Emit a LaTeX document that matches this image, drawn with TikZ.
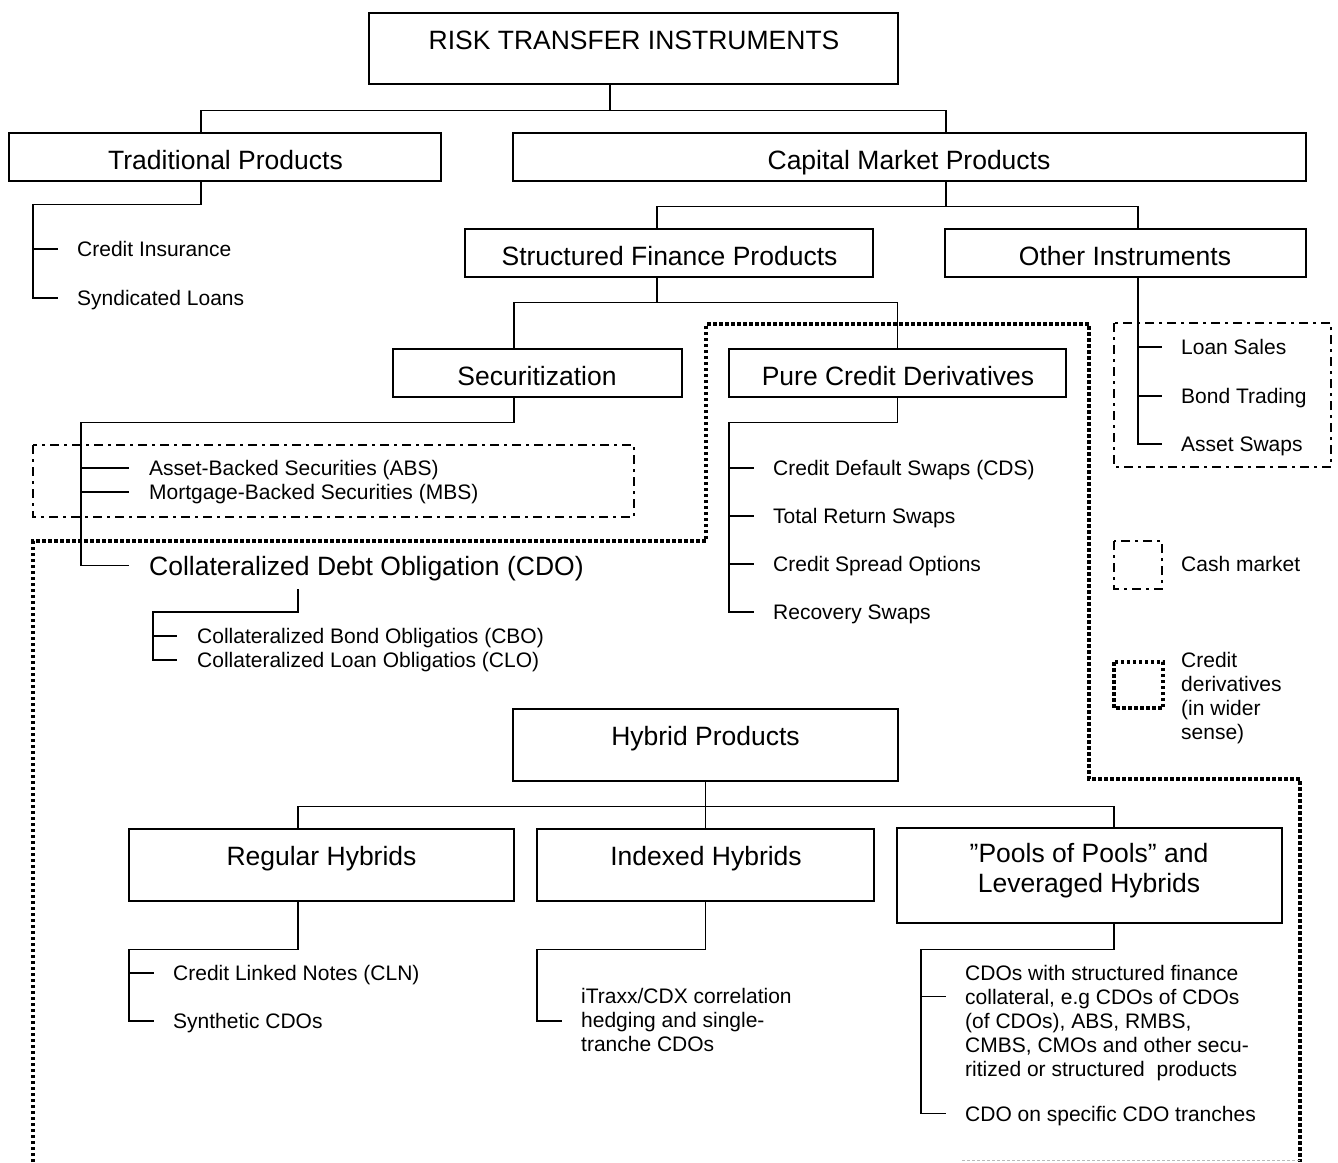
\documentclass[tikz,border=0pt]{standalone}
\usepackage{fontspec}
\setmainfont{Liberation Sans}
\newcommand\lblbig{\fontsize{26.5pt}{30pt}\selectfont}
\newcommand\lblsmall{\fontsize{21pt}{24pt}\selectfont}
\begin{document}
\begin{tikzpicture}[x=1pt,y=-1pt,
  box/.style={draw, line width=2.7pt, inner sep=0pt},
  big/.style={font=\lblbig, inner sep=0pt, text height=19pt, text depth=0pt, anchor=base},
  bigw/.style={font=\lblbig, inner sep=0pt, text height=19pt, text depth=0pt, anchor=base west},
  small/.style={font=\lblsmall, inner sep=0pt, text height=15pt, text depth=0pt, anchor=west},
  conn/.style={line width=1.6pt},
  cashline/.style={line width=2.5pt, dash pattern=on 9pt off 5pt on 3pt off 5pt},
  wideline/.style={line width=3.5pt, dash pattern=on 3.5pt off 2.5pt}]
\useasboundingbox (0,0) rectangle (1338,1162);

% ---- boxes ----
\node[box, minimum width=529pt, minimum height=71pt] (risk) at (633.5,48.5) {};
\node[box, minimum width=432pt, minimum height=48pt] (trad) at (225,157) {};
\node[box, minimum width=793pt, minimum height=48pt] (cap) at (909.5,157) {};
\node[box, minimum width=408pt, minimum height=48pt] (sfp) at (669,253) {};
\node[box, minimum width=361pt, minimum height=48pt] (oth) at (1125.5,253) {};
\node[box, minimum width=289pt, minimum height=48pt] (sec) at (537.5,373) {};
\node[box, minimum width=337pt, minimum height=48pt] (pcd) at (897.5,373) {};
\node[box, minimum width=385pt, minimum height=72pt] (hyb) at (705.5,745) {};
\node[box, minimum width=385pt, minimum height=72pt] (reg) at (321.5,865) {};
\node[box, minimum width=337pt, minimum height=72pt] (idx) at (705.5,865) {};
\node[box, minimum width=385pt, minimum height=95pt] (pools) at (1089.5,875.5) {};

% ---- box titles ----
\node[big] (riskT) at (634,49) {RISK TRANSFER INSTRUMENTS};
\node[big] (tradT) at (225.5,169) {Traditional Products};
\node[big] (capT) at (909,169) {Capital Market Products};
\node[big] (sfpT) at (669.5,265) {Structured Finance Products};
\node[big] (othT) at (1125,265) {Other Instruments};
\node[big] (secT) at (537,385) {Securitization};
\node[big] (pcdT) at (898,385) {Pure Credit Derivatives};
\node[bigw] (cdoT) at (149,575) {Collateralized Debt Obligation (CDO)};
\node[big] (hybT) at (705.5,745) {Hybrid Products};
\node[big] (regT) at (321.5,865) {Regular Hybrids};
\node[big] (idxT) at (706,865) {Indexed Hybrids};
\node[big] (poolsTa) at (1089,862) {”Pools of Pools” and};
\node[big] (poolsTb) at (1089,892) {Leveraged Hybrids};

% ---- leaf labels ----
\node[small] (cins) at (77,249) {Credit Insurance};
\node[small] (synd) at (77,298) {Syndicated Loans};
\node[small] (abs) at (149,468) {Asset-Backed Securities (ABS)};
\node[small] (mbs) at (149,492) {Mortgage-Backed Securities (MBS)};
\node[small] (cbo) at (197,636) {Collateralized Bond Obligatios (CBO)};
\node[small] (clo) at (197,660) {Collateralized Loan Obligatios (CLO)};
\node[small] (cds) at (773,468) {Credit Default Swaps (CDS)};
\node[small] (trs) at (773,516) {Total Return Swaps};
\node[small] (cso) at (773,564) {Credit Spread Options};
\node[small] (rsw) at (773,612) {Recovery Swaps};
\node[small] (lsale) at (1181,347) {Loan Sales};
\node[small] (bond) at (1181,396) {Bond Trading};
\node[small] (aswap) at (1181,444) {Asset Swaps};
\node[small] (cash) at (1181,564) {Cash market};
\node[small] (leg1) at (1181,660) {Credit};
\node[small] (leg2) at (1181,684) {derivatives};
\node[small] (leg3) at (1181,708) {(in wider};
\node[small] (leg4) at (1181,732) {sense)};
\node[small] (cln) at (173,973) {Credit Linked Notes (CLN)};
\node[small] (syn) at (173,1021) {Synthetic CDOs};
\node[small] (itr1) at (581,996) {iTraxx/CDX correlation};
\node[small] (itr2) at (581,1020) {hedging and single-};
\node[small] (itr3) at (581,1044) {tranche CDOs};
\node[small] (pl1) at (965,972.5) {CDOs with structured finance};
\node[small] (pl2) at (965,996.5) {collateral, e.g CDOs of CDOs};
\node[small] (pl3) at (965,1020.5) {(of CDOs), ABS, RMBS,};
\node[small] (pl4) at (965,1044.5) {CMBS, CMOs and other secu-};
\node[small] (pl5) at (965,1068.5) {ritized or structured\ \ products};
\node[small] (pl6) at (965,1113.5) {CDO on specific CDO tranches};

% ---- tree connectors ----
\draw[conn] ([xshift=-23.5pt]risk.south) -- ++(0,25) -| ([xshift=-24pt]trad.north);
\draw[conn] ([xshift=-23.5pt]risk.south) -- ++(0,25) -| ([xshift=36.5pt]cap.north);

\draw[conn] ([xshift=-24pt]trad.south) -- ++(0,22) -| ([xshift=-44pt]synd.west) -- ([xshift=-19pt]synd.west);
\draw[conn] ([xshift=-44pt]cins.west) -- ([xshift=-19pt]cins.west);

\draw[conn] ([xshift=36.5pt]cap.south) -- ++(0,24) -| ([xshift=-12pt]sfp.north);
\draw[conn] ([xshift=36.5pt]cap.south) -- ++(0,24) -| ([xshift=12.5pt]oth.north);

\draw[conn] ([xshift=-12pt]sfp.south) -- ++(0,24) -| ([xshift=-23.5pt]sec.north);
\draw[conn] ([xshift=-12pt]sfp.south) -- ++(0,24) -| (pcd.north);

\draw[conn] ([xshift=-23.5pt]sec.south) -- ++(0,24) -| ([xshift=-68pt]cdoT.west) -- ([xshift=-20pt]cdoT.west);
\draw[conn] ([xshift=-68pt]abs.west) -- ([xshift=-20pt]abs.west);
\draw[conn] ([xshift=-68pt]mbs.west) -- ([xshift=-20pt]mbs.west);

\draw[conn] ([xshift=149pt,yshift=-14pt]cdoT.base west) -- ++(0,23) -| ([xshift=-44pt]clo.west) -- ([xshift=-20pt]clo.west);
\draw[conn] ([xshift=-44pt]cbo.west) -- ([xshift=-20pt]cbo.west);

\draw[conn] (pcd.south) -- ++(0,24) -| ([xshift=-44pt]rsw.west) -- ([xshift=-19pt]rsw.west);
\draw[conn] ([xshift=-44pt]cds.west) -- ([xshift=-19pt]cds.west);
\draw[conn] ([xshift=-44pt]trs.west) -- ([xshift=-19pt]trs.west);
\draw[conn] ([xshift=-44pt]cso.west) -- ([xshift=-19pt]cso.west);

\draw[conn] ([xshift=12.5pt]oth.south) |- ([xshift=-19pt]aswap.west);
\draw[conn] ([xshift=-43pt]lsale.west) -- ([xshift=-19pt]lsale.west);
\draw[conn] ([xshift=-43pt]bond.west) -- ([xshift=-19pt]bond.west);

\draw[conn] (hyb.south) -- ++(0,24) -| ([xshift=-23.5pt]reg.north);
\draw[conn] (hyb.south) -- ++(0,24) -| ([xshift=24.5pt]pools.north);
\draw[conn] (hyb.south) -- (idx.north);

\draw[conn] ([xshift=-23.5pt]reg.south) -- ++(0,47) -| ([xshift=-44pt]syn.west) -- ([xshift=-19pt]syn.west);
\draw[conn] ([xshift=-44pt]cln.west) -- ([xshift=-19pt]cln.west);

\draw[conn] (idx.south) -- ++(0,47) -| ([xshift=-44pt,yshift=-1pt]itr2.west) -- ([xshift=-19pt,yshift=-1pt]itr2.west);

\draw[conn] ([xshift=24.5pt]pools.south) -- ++(0,25) -| ([xshift=-44pt]pl6.west) -- ([xshift=-19pt]pl6.west);
\draw[conn] ([xshift=-44pt]pl2.west) -- ([xshift=-19pt]pl2.west);

% ---- cash market frames ----
\draw[cashline] (33,445) rectangle (634,517);
\draw[cashline] (1114,323) rectangle (1331,467);
\draw[cashline] (1114,541) rectangle (1162,589);

% ---- credit derivatives (wider sense) frame ----
\draw[wideline] (33,1162) -- (33,541) -- (706,541) -- (706,324) -- (1089,324)
  -- (1089,779) -- (1300,779) -- (1300,1162);
\draw[wideline] (1114,662) rectangle (1163,708);
\draw[gray!55, line width=1pt, dash pattern=on 3pt off 2pt] (962,1160) -- (1300,1160);
\end{tikzpicture}
\end{document}
